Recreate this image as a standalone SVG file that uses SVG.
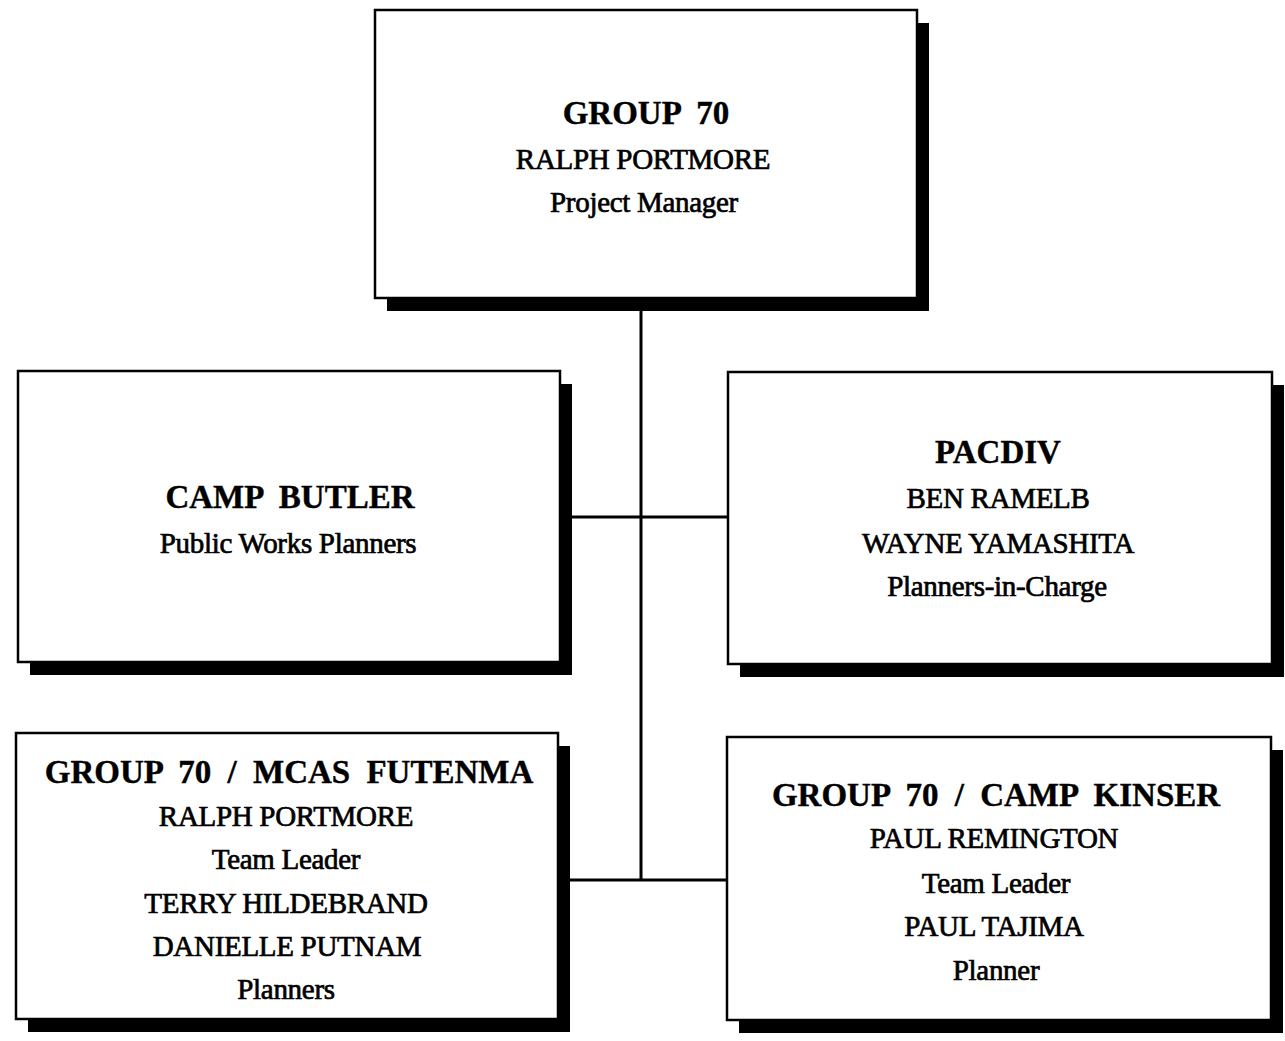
<svg xmlns="http://www.w3.org/2000/svg" width="1285" height="1041" viewBox="0 0 1285 1041">
<style>
.box{fill:#fff;stroke:#000;stroke-width:2.5}
.sh{fill:#000}
.ln{stroke:#000;stroke-width:3;fill:none}
.t{font-family:"Liberation Serif","Times New Roman",serif;font-size:33px;font-weight:bold;text-anchor:middle;word-spacing:8px;fill:#000;stroke:#000;stroke-width:0.4}
.r{font-family:"Liberation Serif","Times New Roman",serif;font-size:29px;text-anchor:middle;fill:#000;letter-spacing:-0.3px;stroke:#000;stroke-width:0.7}
</style>
<rect width="1285" height="1041" fill="#fff"/>
<g id="connectors">
<line class="ln" x1="641" y1="298" x2="641" y2="880"/>
<line class="ln" x1="572" y1="517" x2="728" y2="517"/>
<line class="ln" x1="570" y1="880" x2="727" y2="880"/>
</g>
<g id="group70">
<rect class="sh" x="387" y="23" width="542" height="288"/>
<rect class="box" x="375" y="10" width="542" height="288"/>
<text class="t" x="646" y="124">GROUP 70</text>
<text class="r" x="643" y="169">RALPH PORTMORE</text>
<text class="r" x="644" y="212">Project Manager</text>
</g>
<g id="campbutler">
<rect class="sh" x="30" y="384" width="542" height="291"/>
<rect class="box" x="18" y="371" width="542" height="291"/>
<text class="t" x="290" y="508">CAMP BUTLER</text>
<text class="r" x="288" y="553">Public Works Planners</text>
</g>
<g id="pacdiv">
<rect class="sh" x="740" y="385" width="544" height="292"/>
<rect class="box" x="728" y="372" width="544" height="292"/>
<text class="t" x="998" y="463">PACDIV</text>
<text class="r" x="998" y="508">BEN RAMELB</text>
<text class="r" x="998" y="553">WAYNE YAMASHITA</text>
<text class="r" x="997" y="596">Planners-in-Charge</text>
</g>
<g id="futenma">
<rect class="sh" x="28" y="746" width="542" height="286"/>
<rect class="box" x="16" y="733" width="542" height="286"/>
<text class="t" x="289" y="783">GROUP 70 / MCAS FUTENMA</text>
<text class="r" x="286" y="826">RALPH PORTMORE</text>
<text class="r" x="286" y="869">Team Leader</text>
<text class="r" x="286" y="913">TERRY HILDEBRAND</text>
<text class="r" x="287" y="956">DANIELLE PUTNAM</text>
<text class="r" x="286" y="999">Planners</text>
</g>
<g id="kinser">
<rect class="sh" x="739" y="750" width="544" height="283"/>
<rect class="box" x="727" y="737" width="544" height="283"/>
<text class="t" x="996" y="806">GROUP 70 / CAMP KINSER</text>
<text class="r" x="994" y="848">PAUL REMINGTON</text>
<text class="r" x="996" y="893">Team Leader</text>
<text class="r" x="994" y="936">PAUL TAJIMA</text>
<text class="r" x="996" y="980">Planner</text>
</g>
</svg>
